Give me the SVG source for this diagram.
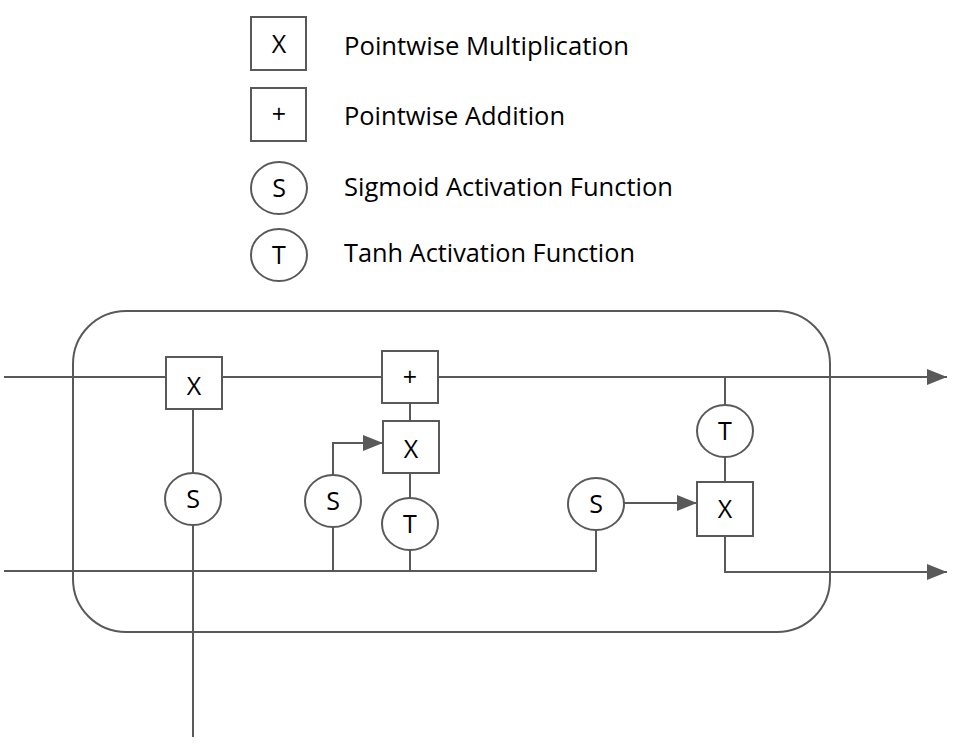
<svg xmlns="http://www.w3.org/2000/svg" width="969" height="744" viewBox="0 0 969 744">
<defs>
<style>
.ln{fill:none;stroke:#595959;stroke-width:2}
.sh{fill:#fff;stroke:#595959;stroke-width:2}
.op{font-family:"Open Sans","Liberation Sans",sans-serif;font-size:25px;fill:#000;text-anchor:middle}
.lb{font-family:"Open Sans","Liberation Sans",sans-serif;font-size:25px;fill:#000}
</style>
<marker id="ah" viewBox="0 0 20 16" refX="20" refY="8" markerWidth="20" markerHeight="16" markerUnits="userSpaceOnUse" orient="auto">
<path d="M0,0 L20,8 L0,16 Z" fill="#595959"/>
</marker>
</defs>
<rect width="969" height="744" fill="#fff"/>
<g id="legend">
<g id="leg-mul"><rect class="sh" x="251" y="17" width="55" height="53"/><text class="op" x="279" y="53">X</text><text class="lb" x="344" y="55" textLength="285" lengthAdjust="spacingAndGlyphs">Pointwise Multiplication</text></g>
<g id="leg-add"><rect class="sh" x="251" y="88" width="55" height="53"/><text class="op" x="279" y="123">+</text><text class="lb" x="344" y="125" textLength="221" lengthAdjust="spacingAndGlyphs">Pointwise Addition</text></g>
<g id="leg-sig"><ellipse class="sh" cx="279" cy="188" rx="28" ry="26"/><text class="op" x="279" y="197">S</text><text class="lb" x="344" y="196" textLength="329" lengthAdjust="spacingAndGlyphs">Sigmoid Activation Function</text></g>
<g id="leg-tanh"><ellipse class="sh" cx="279" cy="255" rx="28" ry="26"/><text class="op" x="279" y="264">T</text><text class="lb" x="344" y="262" textLength="291" lengthAdjust="spacingAndGlyphs">Tanh Activation Function</text></g>
</g>
<g id="cell"><rect class="ln" x="73" y="311" width="757" height="321" rx="53" ry="53"/></g>
<g id="connectors">
<path class="ln" d="M4,377 H166"/>
<path class="ln" d="M222,377 H382"/>
<path class="ln" d="M438,377 H947" marker-end="url(#ah)"/>
<path class="ln" d="M193,409 V473"/>
<path class="ln" d="M193,525 V737"/>
<path class="ln" d="M410,403 V421"/>
<path class="ln" d="M333,475 V443 H383" marker-end="url(#ah)"/>
<path class="ln" d="M410,473 V498"/>
<path class="ln" d="M4,571 H596 V530"/>
<path class="ln" d="M333,527 V571"/>
<path class="ln" d="M410,550 V571"/>
<path class="ln" d="M725,377 V405"/>
<path class="ln" d="M725,457 V482"/>
<path class="ln" d="M624,503 H697" marker-end="url(#ah)"/>
<path class="ln" d="M725,536 V572 H947" marker-end="url(#ah)"/>
</g>
<g id="forget-x"><rect class="sh" x="166" y="357" width="56" height="52"/><text class="op" x="194" y="395">X</text></g>
<g id="forget-s"><ellipse class="sh" cx="193" cy="499" rx="28" ry="26"/><text class="op" x="193" y="508">S</text></g>
<g id="add"><rect class="sh" x="382" y="351" width="56" height="52"/><text class="op" x="410" y="386">+</text></g>
<g id="input-x"><rect class="sh" x="383" y="421" width="56" height="52"/><text class="op" x="411" y="458">X</text></g>
<g id="input-s"><ellipse class="sh" cx="333" cy="501" rx="28" ry="26"/><text class="op" x="333" y="510">S</text></g>
<g id="input-t"><ellipse class="sh" cx="410" cy="524" rx="28" ry="26"/><text class="op" x="410" y="533">T</text></g>
<g id="output-t"><ellipse class="sh" cx="725" cy="431" rx="28" ry="26"/><text class="op" x="725" y="440">T</text></g>
<g id="output-s"><ellipse class="sh" cx="596" cy="504" rx="28" ry="26"/><text class="op" x="596" y="513">S</text></g>
<g id="output-x"><rect class="sh" x="697" y="482" width="56" height="54"/><text class="op" x="725" y="518">X</text></g>
</svg>
